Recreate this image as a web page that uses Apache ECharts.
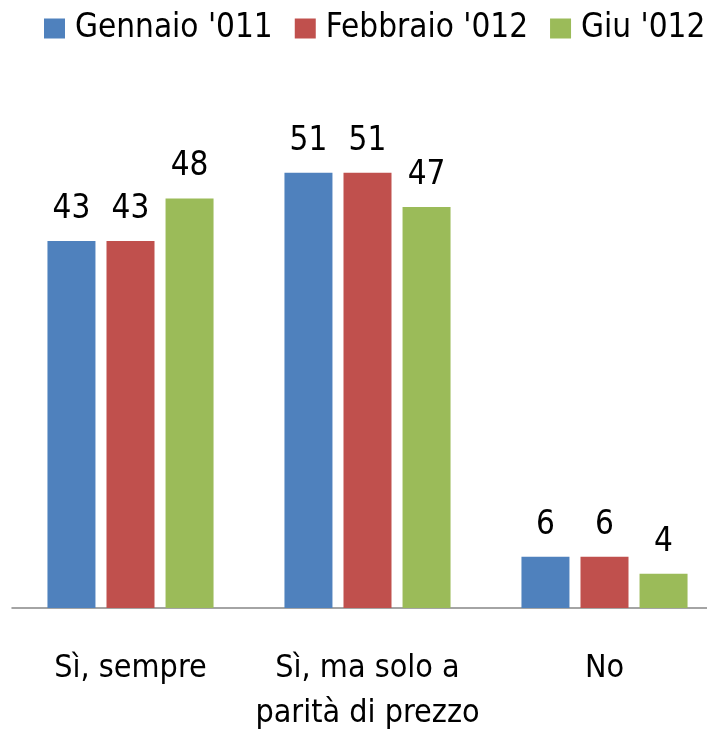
<!DOCTYPE html>
<html><head><meta charset="utf-8">
<script src="https://cdn.jsdelivr.net/npm/echarts@6/dist/echarts.min.js"></script>
<style>html,body{margin:0;padding:0;background:#fff}#c{width:707px;height:730px}</style>
</head><body><div id="c"></div>
<script>
const categories = ["Sì, sempre", "Sì, ma solo a\nparità di prezzo", "No"];
const seriesNames = ["Gennaio '011", "Febbraio '012", "Giu '012"];
const gennaio2011 = [43, 51, 6];
const febbraio2012 = [43, 51, 6];
const giu2012 = [48, 47, 4];
const colors = ["#4F81BD", "#C0504D", "#9BBB59"];
const FONT = "'Liberation Sans Narrow', 'DejaVu Sans Condensed', sans-serif";

const chart = echarts.init(document.getElementById('c'));
const values = [gennaio2011, febbraio2012, giu2012];
chart.setOption({
  animation: false,
  legend: {
    left: 39, top: 7, width: 720, padding: 5, itemWidth: 21, itemHeight: 20, itemGap: 22,
    icon: 'rect',
    textStyle: { fontFamily: FONT, fontSize: 33, color: '#000', padding: [0, 0, 0, 5] },
    data: seriesNames
  },
  grid: { left: 12, width: 711, top: 96, height: 512, outerBoundsMode: 'none', containLabel: false },
  xAxis: {
    type: 'category', data: categories,
    axisTick: { show: false },
    axisLine: { lineStyle: { color: '#868686', width: 1.5 } },
    axisLabel: { fontFamily: FONT, fontSize: 32, color: '#000', margin: 38, lineHeight: 45, interval: 0 }
  },
  yAxis: { type: 'value', min: 0, max: 60, show: false, splitLine: { show: false } },
  series: values.map((v, i) => ({
    name: seriesNames[i], type: 'bar', data: v,
    barWidth: 48, barGap: '23%',
    itemStyle: { color: colors[i] },
    label: { show: true, position: 'top', distance: 15, fontFamily: FONT, fontSize: 33, color: '#000' }
  }))
});
</script></body></html>
